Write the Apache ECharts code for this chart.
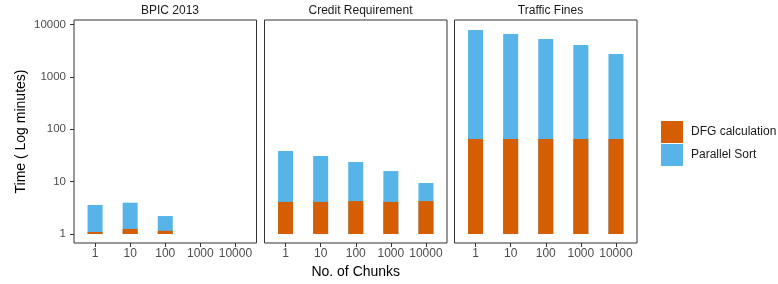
<!DOCTYPE html>
<html>
<head>
<meta charset="utf-8">
<script src="https://cdn.jsdelivr.net/npm/echarts@6/dist/echarts.min.js"></script>
<style>
  html, body { margin: 0; padding: 0; background: #fff; }
  #main { width: 778px; height: 284px; }
</style>
</head>
<body>
<div id="main"></div>
<script>
// chunk counts on the x axis
const chunks = ['1', '10', '100', '1000', '10000'];
const yTicks = [1, 10, 100, 1000, 10000];
const panels = ['BPIC 2013', 'Credit Requirement', 'Traffic Fines'];

// minutes: DFG part and top of the whole bar
const bpicDfg = [1.09, 1.25, 1.15, null, null];
const bpicTotal = [3.58, 3.96, 2.2, null, null];
const creditDfg = [4.1, 4.1, 4.25, 4.1, 4.25];
const creditTotal = [38.4, 30.8, 23.7, 15.9, 9.4];
const trafficDfg = [65, 65, 65, 65, 65];
const trafficTotal = [7820, 6560, 5260, 4045, 2723];

const dfgData = [bpicDfg, creditDfg, trafficDfg];
const totalData = [bpicTotal, creditTotal, trafficTotal];

const chart = echarts.init(document.getElementById('main'), null, { renderer: 'canvas' });

const font = 'Liberation Sans, Arial, sans-serif';
const lefts = [74, 264.5, 454.5];

const grids = lefts.map(l => ({
  left: l, top: 20, width: 182.5, height: 223,
  show: true, borderColor: '#333', borderWidth: 1, backgroundColor: '#fff'
}));

const xAxes = lefts.map((l, i) => ({
  type: 'value', gridIndex: i, min: -0.6, max: 4.6,
  splitLine: { show: false },
  axisLine: { show: false, onZero: false },
  axisTick: { show: true, length: 4, inside: false, customValues: [0, 1, 2, 3, 4],
    lineStyle: { color: '#333', width: 1 } },
  axisLabel: { customValues: [0, 1, 2, 3, 4], formatter: v => chunks[Math.round(v)],
    color: '#4d4d4d', fontSize: 12, fontFamily: font, margin: 5 },
  name: i === 1 ? 'No. of Chunks' : '',
  nameLocation: 'middle', nameGap: 20,
  nameTextStyle: { fontSize: 14, color: '#000', fontFamily: font }
}));

const yAxes = lefts.map((l, i) => ({
  type: 'log', logBase: 10, gridIndex: i, min: 0.673, max: 12190,
  splitLine: { show: false },
  axisLine: { show: false, onZero: false },
  axisTick: { show: i === 0, length: 4, customValues: yTicks,
    lineStyle: { color: '#333', width: 1 } },
  axisLabel: { show: i === 0, customValues: yTicks, formatter: v => String(Math.round(v)),
    color: '#4d4d4d', fontSize: 11.5, fontFamily: font, margin: 8 },
  name: i === 0 ? 'Time ( Log minutes)' : '',
  nameLocation: 'middle', nameGap: 46,
  nameTextStyle: { fontSize: 14, color: '#000', fontFamily: font }
}));

const series = [];
panels.forEach((p, i) => {
  series.push({
    name: 'Parallel Sort', type: 'bar',
    xAxisIndex: i, yAxisIndex: i, barWidth: 15, barGap: '-100%', z: 2,
    itemStyle: { color: '#56B4E9' },
    data: totalData[i].map((v, k) => [k, v])
  });
  series.push({
    name: 'DFG calculation', type: 'bar',
    xAxisIndex: i, yAxisIndex: i, barWidth: 15, barGap: '-100%', z: 3,
    itemStyle: { color: '#D55E00' },
    data: dfgData[i].map((v, k) => [k, v])
  });
});

const option = {
  backgroundColor: '#fff',
  animation: false,
  title: panels.map((p, i) => ({
    text: p, left: lefts[i] + 91, top: 0, textAlign: 'center',
    textStyle: { fontSize: 12, fontWeight: 'normal', color: '#1a1a1a', fontFamily: font }
  })),
  legend: {
    data: ['DFG calculation', 'Parallel Sort'],
    orient: 'vertical', left: 656, top: 116,
    itemWidth: 22, itemHeight: 22, itemGap: 1, icon: 'rect',
    textStyle: { fontSize: 12, color: '#1a1a1a', fontFamily: font, padding: [0, 0, 0, 3] },
    selectedMode: false
  },
  grid: grids,
  xAxis: xAxes,
  yAxis: yAxes,
  series: series
};

chart.setOption(option);
</script>
</body>
</html>
